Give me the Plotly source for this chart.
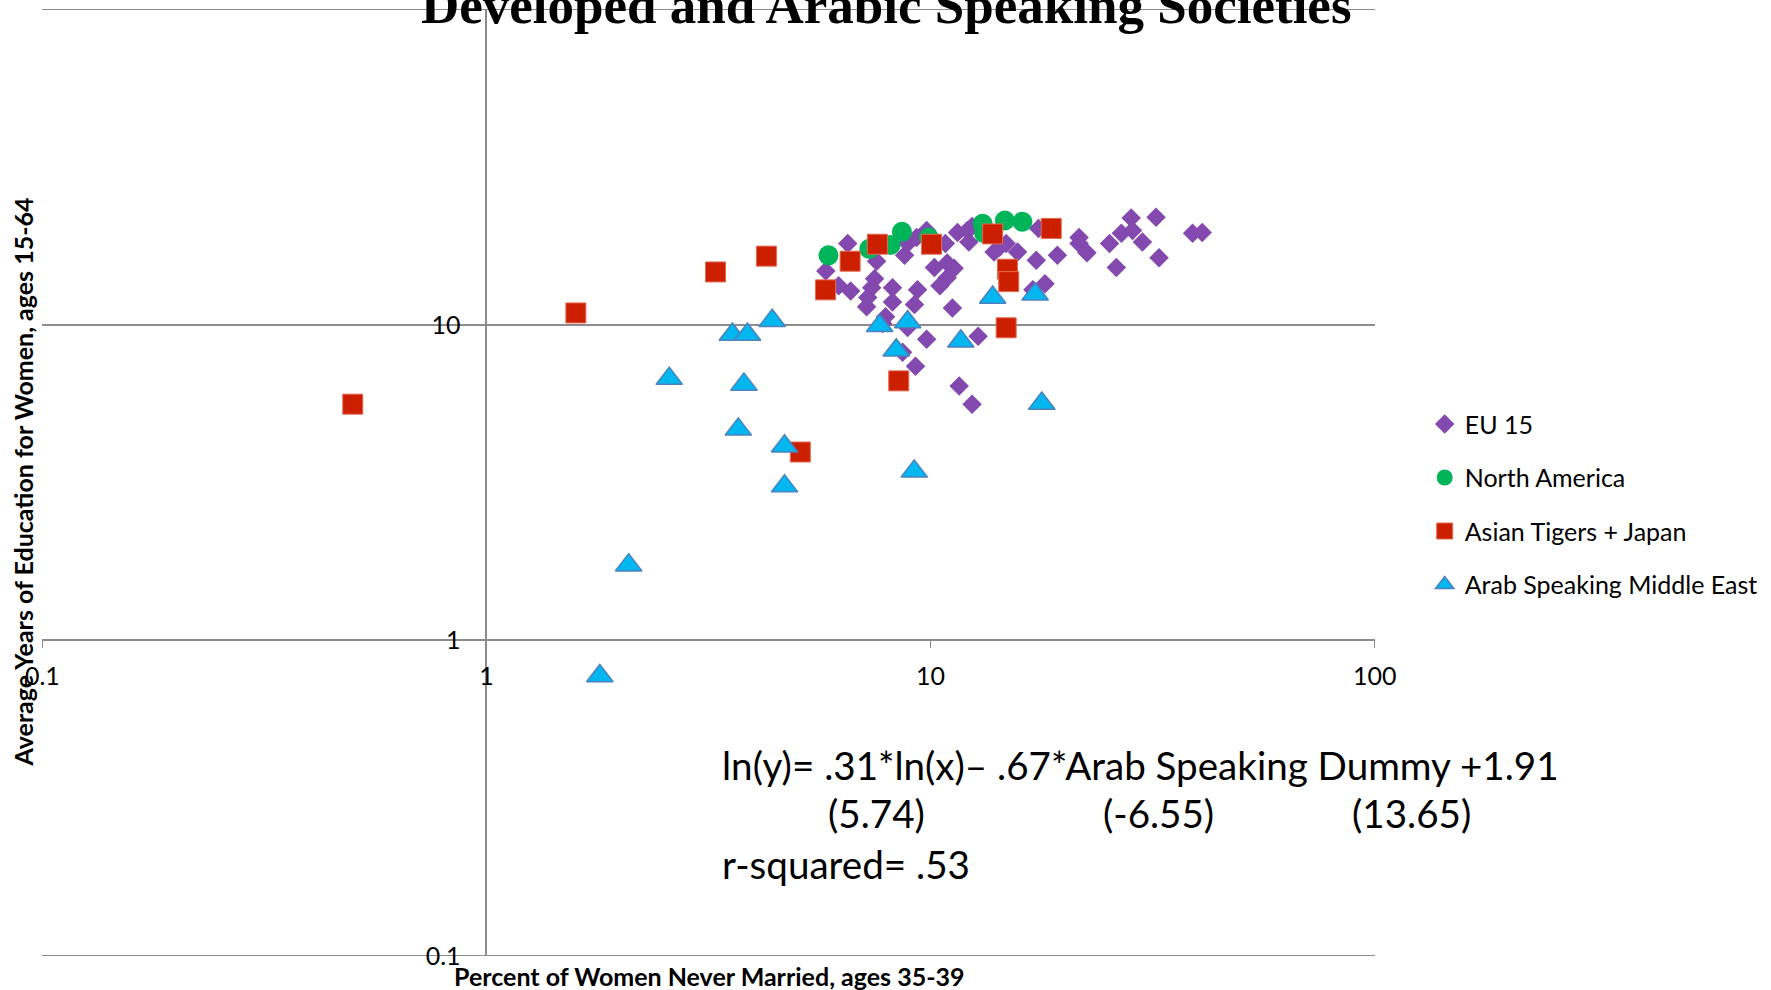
import plotly.graph_objects as go

# Percent of women never married (35-39) vs average years of education (15-64)
eu15_x = [6.51, 5.81, 6.21, 6.61, 7.56, 7.48, 7.37, 7.22, 7.18, 8.21, 8.21, 7.92,
          8.74, 8.88, 9.30, 9.80, 9.35, 9.20, 10.2, 10.9, 11.3, 10.5, 10.9, 11.2,
          10.8, 11.5, 12.1, 12.2, 13.9, 9.80, 12.8, 17.5, 14.8, 15.7, 17.3, 19.3,
          21.6, 21.6, 22.5, 25.3, 26.9, 28.3, 28.5, 30.0, 32.2, 26.2, 32.7, 38.9,
          40.9, 18.1, 17.0, 7.80, 8.88, 8.65, 9.25, 11.6, 12.4, 14.3, 12.4]
eu15_y = [18.1, 14.8, 13.3, 12.8, 15.9, 14.0, 13.1, 12.2, 11.4, 13.1, 11.8, 10.6,
          16.6, 18.1, 18.9, 19.9, 12.9, 11.6, 15.2, 15.7, 15.1, 13.3, 14.1, 11.3,
          18.1, 19.6, 19.9, 18.3, 17.0, 9.0, 9.2, 20.2, 18.1, 17.0, 16.0, 16.6,
          18.9, 18.1, 16.9, 18.1, 19.5, 21.8, 19.9, 18.3, 21.9, 15.2, 16.3, 19.5,
          19.6, 13.5, 12.9, 10.1, 9.8, 8.18, 7.39, 6.39, 5.60, 17.6, 20.5]

north_america_x = [5.89, 7.28, 8.13, 8.62, 9.91, 13.1, 13.2, 14.7, 16.1]
north_america_y = [16.6, 17.4, 17.9, 19.7, 18.9, 20.9, 19.5, 21.4, 21.2]

asian_x = [0.50, 1.59, 3.28, 4.27, 5.09, 5.80, 6.59, 7.59, 8.48, 10.05, 13.8,
           14.9, 15.0, 14.8, 18.7]
asian_y = [5.6, 10.9, 14.7, 16.5, 3.95, 12.9, 15.9, 18.0, 6.64, 18.0, 19.4,
           15.0, 13.7, 9.78, 20.2]

arab_x = [1.80, 2.09, 2.58, 3.58, 3.87, 4.40, 3.80, 3.69, 4.69, 4.69, 7.68, 8.88,
          8.37, 9.19, 11.7, 13.8, 17.2, 17.8]
arab_y = [0.77, 1.73, 6.75, 9.31, 9.31, 10.3, 6.47, 4.66, 4.12, 3.08, 9.93, 10.2,
          8.30, 3.43, 8.86, 12.2, 12.5, 5.63]

tick_vals = [0.1, 1, 10, 100]
tick_text = ["0.1", "1", "10", "100"]

GRID = "#8c8c8c"
FONT = "Lato"

fig = go.Figure()

fig.add_trace(go.Scatter(
    x=eu15_x, y=eu15_y, mode="markers", name="EU 15", legendgroup="a",
    marker=dict(symbol="diamond", size=15, color="#8349AF"),
))
fig.add_trace(go.Scatter(
    x=north_america_x, y=north_america_y, mode="markers", name="North America", legendgroup="b",
    marker=dict(symbol="circle", size=20, color="#00B45A"),
))
fig.add_trace(go.Scatter(
    x=asian_x, y=asian_y, mode="markers", name="Asian Tigers + Japan", legendgroup="c",
    marker=dict(symbol="square", size=20, color="#CC1F00", line=dict(color="#E36A50", width=1)),
))
fig.add_trace(go.Scatter(
    x=arab_x, y=arab_y, mode="markers", name="Arab Speaking Middle East", legendgroup="d",
    marker=dict(symbol="triangle-up", size=23, color="#00B7F0", line=dict(color="#4F81BD", width=1.5)),
))

# axes cross at x=1 / y=1, like the original spreadsheet chart
axis_common = dict(
    type="log", range=[-1.0008, 2.0008], anchor="free", position=1 / 3,
    showline=True, linecolor=GRID, linewidth=1.5,
    tickvals=tick_vals, ticktext=tick_text, tickcolor=GRID,
    tickfont=dict(family=FONT, size=25, color="black"),
    layer="below traces",
)

fig.update_layout(
    width=1771, height=990,
    margin=dict(l=42, r=395, t=9, b=34),
    plot_bgcolor="white", paper_bgcolor="white",
    xaxis=dict(axis_common, ticks="outside", ticklen=7, showgrid=False,
               ticklabelstandoff=7),
    yaxis=dict(axis_common, ticks="outside", ticklen=6, showgrid=True,
               gridcolor=GRID, gridwidth=1.5, ticklabelstandoff=14),
    showlegend=True,
    legend=dict(x=1.0365, y=0.477, xanchor="left", yanchor="middle",
                font=dict(family=FONT, size=25, color="black"),
                itemsizing="trace", tracegroupgap=18, traceorder="grouped"),
)

# plotly skips gridlines on the plot edges, so draw the 0.1 and 100 lines
for edge in (tick_vals[0], tick_vals[-1]):
    fig.add_shape(type="line", xref="paper", yref="y", x0=0, x1=1, y0=edge, y1=edge,
                  line=dict(color=GRID, width=1.5), layer="below")

annotations = [
    # chart title (top line cut off in the original)
    dict(text="<b>Developed and Arabic Speaking Societies</b>", x=0.6334, y=1.0042,
         xanchor="center", yanchor="middle",
         font=dict(family="Liberation Serif", size=53, color="black")),
    dict(text="<b>Average Years of Education for Women, ages 15-64</b>", textangle=-90,
         x=-0.015, y=0.5, xanchor="center", yanchor="middle",
         font=dict(family=FONT, size=25, color="black")),
    dict(text="<b>Percent of Women Never Married, ages 35-39</b>", x=0.5, y=-0.0216,
         xanchor="center", yanchor="middle",
         font=dict(family=FONT, size=25, color="black")),
    dict(text="ln(y)= .31*ln(x)\u2013 .67*Arab Speaking Dummy +1.91", x=0.5087, y=0.2017,
         xanchor="left", yanchor="middle", font=dict(family=FONT, size=38.6, color="black")),
    dict(text="(5.74)", x=0.6264, y=0.1506, xanchor="center", yanchor="middle",
         font=dict(family=FONT, size=38.6, color="black")),
    dict(text="(-6.55)", x=0.8373, y=0.1506, xanchor="center", yanchor="middle",
         font=dict(family=FONT, size=38.6, color="black")),
    dict(text="(13.65)", x=1.0277, y=0.1506, xanchor="center", yanchor="middle",
         font=dict(family=FONT, size=38.6, color="black")),
    dict(text="r-squared= .53", x=0.5087, y=0.0968, xanchor="left", yanchor="middle",
         font=dict(family=FONT, size=38.6, color="black")),
]
for a in annotations:
    fig.add_annotation(a, xref="paper", yref="paper", showarrow=False)

# drop the default 8px body margin so the figure sits at the window's corner
fig.write_html("out.html", config={"displayModeBar": False},
               post_script="document.body.style.margin = '0';")
